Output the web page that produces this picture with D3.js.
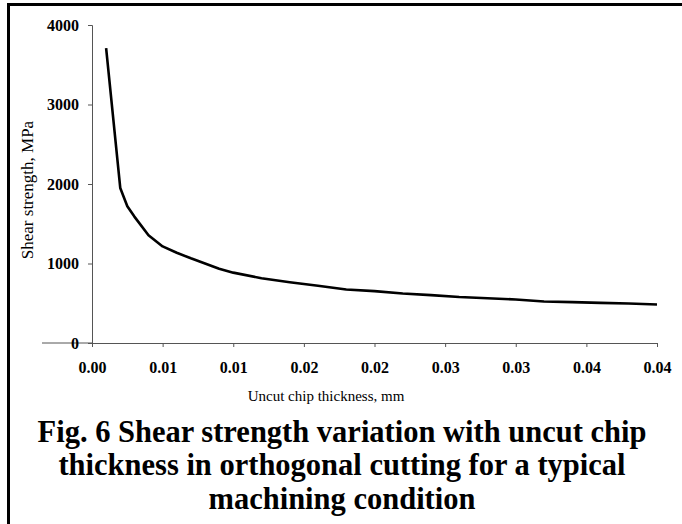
<!DOCTYPE html>
<html>
<head>
<meta charset="utf-8">
<script src="https://cdn.jsdelivr.net/npm/d3@7"></script>
<style>
  body { margin: 0; background: #fff; }
  svg { display: block; font-family: "Liberation Serif", "Times New Roman", serif; }
</style>
</head>
<body>
<svg id="chart"></svg>
<script>
// uncut chip thickness (mm) and shear strength (MPa)
const thickness = [0.001, 0.002, 0.0025, 0.003, 0.004, 0.005, 0.006, 0.007, 0.008, 0.009,
                   0.010, 0.012, 0.014, 0.016, 0.018, 0.020, 0.022, 0.024, 0.026, 0.028,
                   0.030, 0.032, 0.034, 0.036, 0.038, 0.040];
const shearStrength = [3710, 1950, 1720, 1590, 1355, 1215, 1135, 1065, 1000, 935,
                       885, 815, 765, 720, 672, 652, 622, 602, 578, 563,
                       548, 522, 514, 505, 496, 485];

const xTicks = [0, 0.005, 0.01, 0.015, 0.02, 0.025, 0.03, 0.035, 0.04];
const xTickLabels = ["0.00", "0.01", "0.01", "0.02", "0.02", "0.03", "0.03", "0.04", "0.04"];
const yTicks = [0, 1000, 2000, 3000, 4000];
const yTickLabels = ["0", "1000", "2000", "3000", "4000"];

const xTitle = "Uncut chip thickness, mm";
const yTitle = "Shear strength, MPa";
const caption = ["Fig. 6 Shear strength variation with uncut chip",
                 "thickness in orthogonal cutting for a typical",
                 "machining condition"];

const width = 682, height = 524;
const plot = { left: 92, right: 657, top: 25, bottom: 343 };

const svg = d3.select("#chart").attr("width", width).attr("height", height);

// frame: heavy rule on the left and top only
svg.append("path")
    .attr("d", `M8.5,${height} V4.5 H${width}`)
    .attr("fill", "none")
    .attr("stroke", "#000")
    .attr("stroke-width", 3);

const x = d3.scaleLinear().domain([0, 0.04]).range([plot.left, plot.right]);
const y = d3.scaleLinear().domain([0, 4000]).range([plot.bottom, plot.top]);

// x axis
const gX = svg.append("g")
    .attr("transform", `translate(0, ${plot.bottom})`)
    .call(d3.axisBottom(x)
        .tickValues(xTicks)
        .tickFormat((d, i) => xTickLabels[i])
        .tickSizeOuter(0)
        .tickSize(4)
        .tickPadding(15));

// the x axis line runs on a bit to the left of the y axis
gX.append("line")
    .attr("x1", plot.left - 50)
    .attr("x2", plot.left)
    .attr("stroke", "#555");

// y axis
const gY = svg.append("g")
    .attr("transform", `translate(${plot.left}, 0)`)
    .call(d3.axisLeft(y)
        .tickValues(yTicks)
        .tickFormat((d, i) => yTickLabels[i])
        .tickSizeOuter(0)
        .tickSize(4)
        .tickPadding(9));

[gX, gY].forEach(g => {
    g.select(".domain").attr("stroke", "#555");
    g.selectAll(".tick line").attr("stroke", "#555");
    g.selectAll(".tick text")
        .attr("fill", "#000")
        .style("font-family", "'Liberation Serif', serif")
        .style("font-size", "16px")
        .style("font-weight", "bold");
});

// curve
const line = d3.line()
    .x((d, i) => x(thickness[i]))
    .y(d => y(d));

svg.append("path")
    .datum(shearStrength)
    .attr("fill", "none")
    .attr("stroke", "#000")
    .attr("stroke-width", 2.6)
    .attr("stroke-linejoin", "round")
    .attr("d", line);

// axis titles
svg.append("text")
    .attr("x", 326)
    .attr("y", 401)
    .attr("text-anchor", "middle")
    .style("font-size", "15px")
    .text(xTitle);

svg.append("text")
    .attr("transform", "translate(33, 190) rotate(-90)")
    .attr("text-anchor", "middle")
    .style("font-size", "17px")
    .text(yTitle);

// figure caption
svg.selectAll(".caption")
    .data(caption)
    .enter()
    .append("text")
    .attr("class", "caption")
    .attr("x", 342)
    .attr("y", (d, i) => 441.5 + i * 33.7)
    .attr("text-anchor", "middle")
    .style("font-size", "30.5px")
    .style("font-weight", "bold")
    .text(d => d);
</script>
</body>
</html>
